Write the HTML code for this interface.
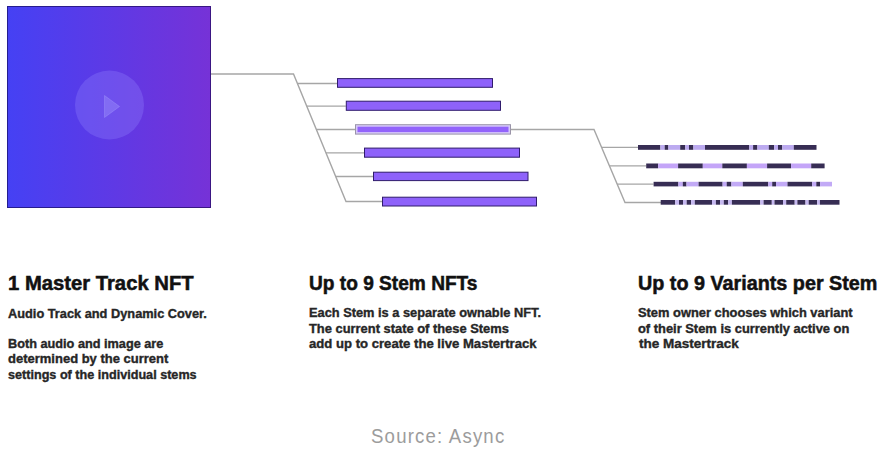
<!DOCTYPE html>
<html><head><meta charset="utf-8"><style>
html,body{margin:0;padding:0;background:#fff;width:889px;height:453px;overflow:hidden;position:relative}
.t{position:absolute;white-space:nowrap;font-family:"Liberation Sans",Arial,sans-serif;transform-origin:0 0}
.h{font-weight:bold;color:#111;-webkit-text-stroke:0.5px #111}
.b{font-weight:bold;color:#262626;-webkit-text-stroke:0.35px #262626}
.c{font-weight:normal;color:#9c9c9c}
</style></head><body>
<svg width="889" height="453" viewBox="0 0 889 453" style="position:absolute;left:0;top:0">
<defs><linearGradient id="g" x1="0" y1="0" x2="1" y2="0">
<stop offset="0" stop-color="rgb(69,65,244)"/><stop offset="1" stop-color="rgb(118,50,215)"/></linearGradient></defs>
<rect x="7" y="6" width="204" height="202" fill="url(#g)"/>
<rect x="7.5" y="6.5" width="203" height="201" fill="none" stroke="rgba(10,0,60,0.55)" stroke-width="1"/>
<circle cx="109.5" cy="105" r="34.5" fill="rgba(150,135,255,0.3)"/>
<path d="M104.5,95.5 L119.5,106.5 L104.5,117.5 Z" fill="rgba(170,160,255,0.34)" stroke="rgba(170,160,255,0.34)" stroke-width="1" stroke-linejoin="round" paint-order="stroke"/>
<g fill="none" stroke="#a6a6a6" stroke-width="1.4">
<path d="M211,74 H293.5 L346,201.5 H382" />
<path d="M297.4,83.5 H337" />
<path d="M306.7,106.1 H345.8" />
<path d="M316.4,129.5 H355" />
<path d="M326.0,152.9 H364" />
<path d="M335.7,176.5 H373" />
<path d="M511,129.5 H594 L625,202.5 H661" />
<path d="M601.6,147.4 H638" />
<path d="M609.5,165.9 H646.2" />
<path d="M617.2,184.10000000000002 H653.6" />
</g>
<rect x="337.5" y="78.6" width="155" height="8.7" fill="#8e62fa" stroke="#301c6c" stroke-width="1"/>
<rect x="346.3" y="101.2" width="154.2" height="9.1" fill="#8e62fa" stroke="#301c6c" stroke-width="1"/>
<rect x="355.5" y="124.7" width="155" height="9.4" fill="#d6c8fa" stroke="#9a94a8" stroke-width="1"/>
<rect x="357.5" y="126.7" width="151" height="5.4" fill="#9263fb"/>
<rect x="364.5" y="148.1" width="155" height="9.1" fill="#8e62fa" stroke="#301c6c" stroke-width="1"/>
<rect x="373.5" y="172.2" width="154.5" height="8.4" fill="#8e62fa" stroke="#301c6c" stroke-width="1"/>
<rect x="382.5" y="197.2" width="154" height="8.8" fill="#8e62fa" stroke="#301c6c" stroke-width="1"/>
<rect x="638.0" y="145" width="22.4" height="4.8" fill="#372d54"/>
<rect x="660.4" y="145" width="4.3" height="4.8" fill="#bcaaf0"/>
<rect x="664.7" y="145" width="3.7" height="4.8" fill="#372d54"/>
<rect x="668.4" y="145" width="11.8" height="4.8" fill="#bcaaf0"/>
<rect x="680.2" y="145" width="5.1" height="4.8" fill="#372d54"/>
<rect x="685.3" y="145" width="3.7" height="4.8" fill="#bcaaf0"/>
<rect x="689.0" y="145" width="4.4" height="4.8" fill="#372d54"/>
<rect x="693.4" y="145" width="11.6" height="4.8" fill="#bcaaf0"/>
<rect x="705.0" y="145" width="44.3" height="4.8" fill="#372d54"/>
<rect x="749.3" y="145" width="3.8" height="4.8" fill="#bcaaf0"/>
<rect x="753.1" y="145" width="4.3" height="4.8" fill="#372d54"/>
<rect x="757.4" y="145" width="11.4" height="4.8" fill="#bcaaf0"/>
<rect x="768.8" y="145" width="5.4" height="4.8" fill="#372d54"/>
<rect x="774.2" y="145" width="3.8" height="4.8" fill="#bcaaf0"/>
<rect x="778.0" y="145" width="4.3" height="4.8" fill="#372d54"/>
<rect x="782.3" y="145" width="11.5" height="4.8" fill="#bcaaf0"/>
<rect x="793.8" y="145" width="22.7" height="4.8" fill="#372d54"/>
<rect x="646.2" y="163.5" width="12.0" height="4.8" fill="#372d54"/>
<rect x="658.2" y="163.5" width="19.9" height="4.8" fill="#c4a5f8"/>
<rect x="678.1" y="163.5" width="24.7" height="4.8" fill="#372d54"/>
<rect x="702.8" y="163.5" width="19.5" height="4.8" fill="#c4a5f8"/>
<rect x="722.3" y="163.5" width="24.6" height="4.8" fill="#372d54"/>
<rect x="746.9" y="163.5" width="20.2" height="4.8" fill="#c4a5f8"/>
<rect x="767.1" y="163.5" width="24.0" height="4.8" fill="#372d54"/>
<rect x="791.1" y="163.5" width="20.1" height="4.8" fill="#c4a5f8"/>
<rect x="811.2" y="163.5" width="13.4" height="4.8" fill="#372d54"/>
<rect x="653.6" y="181.8" width="24.8" height="4.6" fill="#372d54"/>
<rect x="678.4" y="181.8" width="4.4" height="4.6" fill="#c2aaf6"/>
<rect x="682.8" y="181.8" width="3.7" height="4.6" fill="#372d54"/>
<rect x="686.5" y="181.8" width="12.1" height="4.6" fill="#c2aaf6"/>
<rect x="698.6" y="181.8" width="24.0" height="4.6" fill="#372d54"/>
<rect x="722.6" y="181.8" width="4.1" height="4.6" fill="#c2aaf6"/>
<rect x="726.7" y="181.8" width="4.7" height="4.6" fill="#372d54"/>
<rect x="731.4" y="181.8" width="11.4" height="4.6" fill="#c2aaf6"/>
<rect x="742.8" y="181.8" width="25.5" height="4.6" fill="#372d54"/>
<rect x="768.3" y="181.8" width="3.9" height="4.6" fill="#c2aaf6"/>
<rect x="772.2" y="181.8" width="3.8" height="4.6" fill="#372d54"/>
<rect x="776.0" y="181.8" width="11.5" height="4.6" fill="#c2aaf6"/>
<rect x="787.5" y="181.8" width="24.7" height="4.6" fill="#372d54"/>
<rect x="812.2" y="181.8" width="4.1" height="4.6" fill="#c2aaf6"/>
<rect x="816.3" y="181.8" width="3.8" height="4.6" fill="#372d54"/>
<rect x="820.1" y="181.8" width="11.9" height="4.6" fill="#c2aaf6"/>
<rect x="660.7" y="200" width="14.5" height="4.7" fill="#372d54"/>
<rect x="675.2" y="200" width="3.8" height="4.7" fill="#c6b8f0"/>
<rect x="679.0" y="200" width="4.0" height="4.7" fill="#372d54"/>
<rect x="683.0" y="200" width="3.7" height="4.7" fill="#c6b8f0"/>
<rect x="686.7" y="200" width="4.4" height="4.7" fill="#372d54"/>
<rect x="691.1" y="200" width="3.7" height="4.7" fill="#c6b8f0"/>
<rect x="694.8" y="200" width="17.2" height="4.7" fill="#372d54"/>
<rect x="712.0" y="200" width="3.9" height="4.7" fill="#c6b8f0"/>
<rect x="715.9" y="200" width="4.2" height="4.7" fill="#372d54"/>
<rect x="720.1" y="200" width="3.7" height="4.7" fill="#c6b8f0"/>
<rect x="723.8" y="200" width="4.4" height="4.7" fill="#372d54"/>
<rect x="728.2" y="200" width="3.7" height="4.7" fill="#c6b8f0"/>
<rect x="731.9" y="200" width="28.4" height="4.7" fill="#372d54"/>
<rect x="760.3" y="200" width="3.3" height="4.7" fill="#c6b8f0"/>
<rect x="763.6" y="200" width="8.2" height="4.7" fill="#372d54"/>
<rect x="771.8" y="200" width="2.7" height="4.7" fill="#c6b8f0"/>
<rect x="774.5" y="200" width="8.5" height="4.7" fill="#372d54"/>
<rect x="783.0" y="200" width="3.2" height="4.7" fill="#c6b8f0"/>
<rect x="786.2" y="200" width="8.5" height="4.7" fill="#372d54"/>
<rect x="794.7" y="200" width="2.7" height="4.7" fill="#c6b8f0"/>
<rect x="797.4" y="200" width="8.1" height="4.7" fill="#372d54"/>
<rect x="805.5" y="200" width="3.2" height="4.7" fill="#c6b8f0"/>
<rect x="808.7" y="200" width="8.5" height="4.7" fill="#372d54"/>
<rect x="817.2" y="200" width="2.7" height="4.7" fill="#c6b8f0"/>
<rect x="819.9" y="200" width="19.6" height="4.7" fill="#372d54"/>
</svg>
<div class="t h" style="left:7.87px;top:273.56px;font-size:19.3px;line-height:19.3px;transform:scaleX(1.0497)">1 Master Track NFT</div>
<div class="t h" style="left:309.01px;top:273.56px;font-size:19.3px;line-height:19.3px;transform:scaleX(0.9913)">Up to 9 Stem NFTs</div>
<div class="t h" style="left:637.88px;top:273.56px;font-size:19.3px;line-height:19.3px;transform:scaleX(1.0250)">Up to 9 Variants per Stem</div>
<div class="t b" style="left:8.07px;top:307.59px;font-size:12.3px;line-height:12.3px;transform:scaleX(1.0394)">Audio Track and Dynamic Cover.</div>
<div class="t b" style="left:7.96px;top:337.89px;font-size:12.3px;line-height:12.3px;transform:scaleX(1.0335)">Both audio and image are</div>
<div class="t b" style="left:8.22px;top:353.39px;font-size:12.3px;line-height:12.3px;transform:scaleX(1.0571)">determined by the current</div>
<div class="t b" style="left:8.21px;top:368.79px;font-size:12.3px;line-height:12.3px;transform:scaleX(1.0263)">settings of the individual stems</div>
<div class="t b" style="left:309.14px;top:307.19px;font-size:12.3px;line-height:12.3px;transform:scaleX(1.0411)">Each Stem is a separate ownable NFT.</div>
<div class="t b" style="left:309.04px;top:322.69px;font-size:12.3px;line-height:12.3px;transform:scaleX(1.0484)">The current state of these Stems</div>
<div class="t b" style="left:308.93px;top:337.89px;font-size:12.3px;line-height:12.3px;transform:scaleX(1.0674)">add up to create the live Mastertrack</div>
<div class="t b" style="left:638.41px;top:307.19px;font-size:12.3px;line-height:12.3px;transform:scaleX(1.0467)">Stem owner chooses which variant</div>
<div class="t b" style="left:638.43px;top:322.69px;font-size:12.3px;line-height:12.3px;transform:scaleX(1.0484)">of their Stem is currently active on</div>
<div class="t b" style="left:638.65px;top:337.89px;font-size:12.3px;line-height:12.3px;transform:scaleX(1.0988)">the Mastertrack</div>
<div class="t c" style="left:371.26px;top:426.37px;font-size:20px;line-height:20px;letter-spacing:1.283px;transform:scaleX(0.9300)">Source: Async</div>
</body></html>
